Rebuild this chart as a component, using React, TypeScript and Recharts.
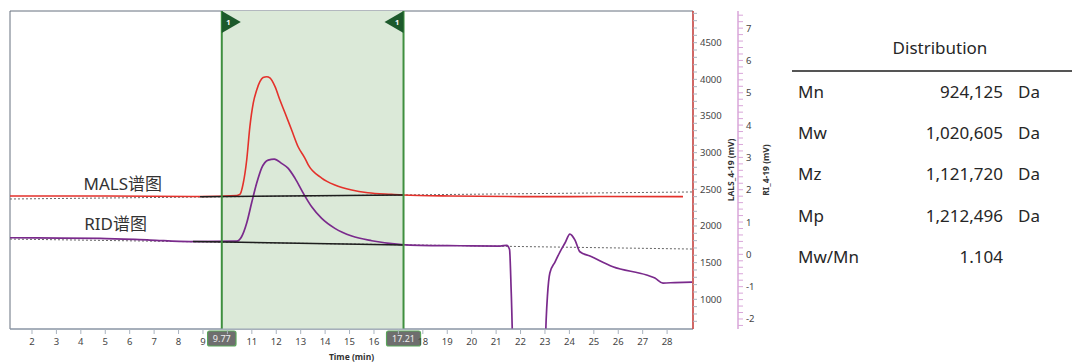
import React from 'react';
import {
  ComposedChart,
  Line,
  XAxis,
  YAxis,
  ReferenceArea,
  ReferenceLine,
  ReferenceDot,
} from 'recharts';

// ---- MALS (LALS detector) trace, mV ----
const MALS_TIME = [1.1, 4.78, 8.88, 10.39, 10.51, 10.65, 10.79, 10.92, 11.06, 11.2, 11.33, 11.46, 11.61, 11.74, 11.95, 12.15, 12.36, 12.63, 12.9, 13.17, 13.31, 13.86, 14.4, 15.09, 15.75, 16.72, 17.19, 19.11, 22.79, 25.25, 28.65];
const MALS_LALS = [2409, 2409, 2402, 2416, 2430, 2586, 2900, 3354, 3678, 3855, 3968, 4025, 4036, 4019, 3900, 3718, 3541, 3309, 3077, 2927, 2832, 2654, 2559, 2491, 2454, 2432, 2423, 2409, 2400, 2402, 2400];

// ---- RID (refractive index) trace, mV ----
const RID_TIME = [1.1, 3.15, 4.78, 6.83, 8.47, 10.38, 10.58, 10.79, 10.99, 11.2, 11.4, 11.67, 11.92, 12.22, 12.49, 12.77, 13.11, 13.45, 13.86, 14.4, 15.09, 15.91, 17.13, 17.88, 19.52, 21.16, 21.44, 21.55, 21.62, 21.72, 22.98, 23.05, 23.1, 23.2, 23.41, 23.61, 23.82, 24.02, 24.23, 24.43, 24.84, 25.78, 27.16, 27.5, 27.83, 28.32, 29.02];
const RID_RI = [0.513, 0.504, 0.495, 0.442, 0.396, 0.41, 0.544, 0.968, 1.587, 2.205, 2.669, 2.917, 2.948, 2.815, 2.66, 2.351, 1.887, 1.472, 1.113, 0.804, 0.566, 0.421, 0.303, 0.278, 0.266, 0.257, 0.278, 0.15, -1.2, -3.5, -3.5, -2.0, -1.3, -0.578, -0.238, 0.071, 0.35, 0.628, 0.442, 0.08, -0.053, -0.384, -0.64, -0.733, -0.888, -0.872, -0.857];

// ---- integration baselines ----
const MALS_BASE_TIME = [8.88, 17.21];
const MALS_BASE_LALS = [2400, 2423];
const RID_BASE_TIME = [8.59, 17.21];
const RID_BASE_RI = [0.396, 0.288];

// ---- extended baseline trends (dotted) ----
const MALS_TREND_TIME = [1.1, 29.06];
const MALS_TREND_LALS = [2368, 2464];
const RID_TREND_TIME = [1.1, 29.06];
const RID_TREND_RI = [0.473, 0.164];

// ---- peak integration limits ----
const PEAK_START = 9.77;
const PEAK_END = 17.21;
const PEAK_ID = '1';

// ---- axes ----
const TIME_DOMAIN = [1.1, 29.06];
const LALS_DOMAIN = [595, 4932];
const RI_DOMAIN = [-2.31, 7.53];
const TIME_TICKS = [2, 3, 4, 5, 6, 7, 8, 9, 10, 11, 12, 13, 14, 15, 16, 17, 18, 19, 20, 21, 22, 23, 24, 25, 26, 27, 28];
const LALS_LABELS = [1000, 1500, 2000, 2500, 3000, 3500, 4000, 4500];
const RI_LABELS = [-2, -1, 0, 1, 2, 3, 4, 5, 6, 7];

// ---- trace annotations ----
const ANNOTATION_TEXT = ['MALS谱图', 'RID谱图'];
const ANNOTATION_TIME = [5.72, 5.42];
const ANNOTATION_VALUE = [2573, 0.96];

// ---- distribution results ----
const DIST_LABELS = ['Mn', 'Mw', 'Mz', 'Mp', 'Mw/Mn'];
const DIST_VALUES = ['924,125', '1,020,605', '1,121,720', '1,212,496', '1.104'];
const DIST_UNITS = ['Da', 'Da', 'Da', 'Da', ''];

// minor tick positions
const LALS_TICKS: number[] = [];
for (let v = 700; v <= 4900; v += 100) LALS_TICKS.push(v);
const RI_TICKS: number[] = [];
for (let i = -11; i <= 37; i++) RI_TICKS.push(Math.round(i * 2) / 10);

const toPoints = (t: number[], v: number[]) => t.map((x, i) => ({ t: x, v: v[i] }));

const malsData = toPoints(MALS_TIME, MALS_LALS);
const ridData = toPoints(RID_TIME, RID_RI);
const malsBase = toPoints(MALS_BASE_TIME, MALS_BASE_LALS);
const ridBase = toPoints(RID_BASE_TIME, RID_BASE_RI);
const malsTrend = toPoints(MALS_TREND_TIME, MALS_TREND_LALS);
const ridTrend = toPoints(RID_TREND_TIME, RID_TREND_RI);

const FONT = '"Noto Sans", "Noto Sans CJK SC", sans-serif';
const RED = '#e4312b';
const PURPLE = '#7a2a8c';
const GREEN_LINE = '#3f8f3f';
const GREEN_FLAG = '#1d5a2c';

const LalsTick = (props: any) => {
  const { x, y, payload } = props;
  if (!LALS_LABELS.includes(payload.value)) return null;
  return (
    <text x={x} y={y} dy={3.5} textAnchor="start" fontSize={9.5} fill="#444" fontFamily={FONT}>
      {payload.value}
    </text>
  );
};

const RiTick = (props: any) => {
  const { x, y, payload } = props;
  if (!RI_LABELS.includes(payload.value)) return null;
  return (
    <text x={x} y={y} dy={3.5} textAnchor="start" fontSize={9.5} fill="#444" fontFamily={FONT}>
      {payload.value}
    </text>
  );
};

// time labels sitting under a limit badge are covered by it
const TimeTick = (props: any) => {
  const { x, y, payload } = props;
  const v = payload.value;
  if (Math.abs(v - PEAK_START) < 0.5 || Math.abs(v - PEAK_END) < 0.5) return null;
  return (
    <text x={x} y={y} dy={9} textAnchor="middle" fontSize={9.5} fill="#444" fontFamily={FONT}>
      {v}
    </text>
  );
};

const AxisTitle = (props: any) => {
  const { viewBox, text, dx } = props;
  const cx = viewBox.x + dx;
  const cy = viewBox.y + viewBox.height / 2;
  return (
    <text
      x={cx}
      y={cy}
      transform={`rotate(-90 ${cx} ${cy})`}
      textAnchor="middle"
      dominantBaseline="central"
      fontSize={8.5}
      fontWeight="bold"
      fill="#333"
      fontFamily={FONT}
    >
      {text}
    </text>
  );
};

const TimeTitle = (props: any) => {
  const { viewBox } = props;
  return (
    <text
      x={viewBox.x + viewBox.width / 2}
      y={viewBox.y + viewBox.height - 3.5}
      textAnchor="middle"
      fontSize={8.5}
      fontWeight="bold"
      fill="#333"
      fontFamily={FONT}
    >
      Time (min)
    </text>
  );
};

// flag at the top and value badge under the axis for an integration limit
const LimitMarker = (props: any) => {
  const { viewBox, value, side } = props;
  const x = viewBox.x;
  const top = viewBox.y;
  const bottom = viewBox.y + viewBox.height;
  const dir = side === 'start' ? 1 : -1;
  const flag = `M${x},${top} L${x + dir * 19},${top + 11} L${x},${top + 22} Z`;
  const label = value.toFixed(2);
  const w = label.length * 5.6 + 6;
  return (
    <g>
      <path d={flag} fill={GREEN_FLAG} />
      <text
        x={x + dir * 6.5}
        y={top + 11}
        dy={3}
        textAnchor="middle"
        fontSize={7.5}
        fontWeight="bold"
        fill="#fff"
        fontFamily={FONT}
      >
        {PEAK_ID}
      </text>
      <rect x={x - w / 2} y={bottom + 2} width={w} height={15} rx={2} fill="#6e6e6e" stroke="#5aa55a" strokeWidth={1.2} />
      <text x={x} y={bottom + 9.5} dy={3.3} textAnchor="middle" fontSize={9} fill="#eeeeee" fontFamily={FONT}>
        {label}
      </text>
    </g>
  );
};

const TraceLabel = (props: any) => {
  const { viewBox, text } = props;
  const cx = viewBox.x + viewBox.width / 2;
  const cy = viewBox.y + viewBox.height / 2;
  return (
    <text x={cx} y={cy} textAnchor="middle" dominantBaseline="central" fontSize={17} fill="#333" fontFamily={FONT}>
      {text}
    </text>
  );
};

const ROW_Y = [92, 133, 174, 216, 257];

export default function App() {
  return (
    <div style={{ position: 'absolute', left: 0, top: 0, width: 1072, height: 363, background: '#fff' }}>
      <ComposedChart
        width={1072}
        height={363}
        margin={{ top: 11, left: 10, right: 294, bottom: 0 }}
        style={{ fontFamily: FONT }}
      >
        <XAxis
          dataKey="t"
          type="number"
          domain={TIME_DOMAIN}
          ticks={TIME_TICKS}
          allowDataOverflow
          tick={<TimeTick />}
          tickSize={5}
          tickLine={{ stroke: '#a9b3bf' }}
          axisLine={{ stroke: '#9aa7b6' }}
          height={34}
          label={<TimeTitle />}
        />
        <YAxis
          yAxisId="lals"
          orientation="right"
          type="number"
          domain={LALS_DOMAIN}
          ticks={LALS_TICKS}
          interval={0}
          allowDataOverflow
          width={45}
          tickSize={4}
          tickMargin={3}
          tick={<LalsTick />}
          tickLine={{ stroke: '#a9b3bf' }}
          axisLine={{ stroke: RED, strokeWidth: 1.2 }}
          label={<AxisTitle text="LALS_4-19 (mV)" dx={37} />}
        />
        <YAxis
          yAxisId="ri"
          orientation="right"
          type="number"
          domain={RI_DOMAIN}
          ticks={RI_TICKS}
          interval={0}
          allowDataOverflow
          width={40}
          tickSize={5}
          tickMargin={3}
          tick={<RiTick />}
          tickLine={{ stroke: '#d9a6d9' }}
          axisLine={{ stroke: '#d9a6d9', strokeWidth: 1.5 }}
          label={<AxisTitle text="RI_4-19 (mV)" dx={27} />}
        />

        {/* plot frame */}
        <ReferenceArea
          yAxisId="lals"
          x1={TIME_DOMAIN[0]}
          x2={TIME_DOMAIN[1]}
          y1={LALS_DOMAIN[0]}
          y2={LALS_DOMAIN[1]}
          fill="none"
          stroke="#66717f"
          strokeWidth={1}
        />
        {/* integrated peak region */}
        <ReferenceArea
          yAxisId="lals"
          x1={PEAK_START}
          x2={PEAK_END}
          y1={LALS_DOMAIN[0]}
          y2={LALS_DOMAIN[1]}
          fill="#dbe9d8"
          fillOpacity={1}
          stroke="none"
        />

        <Line yAxisId="lals" data={malsTrend} dataKey="v" type="linear" stroke="#666" strokeWidth={1} strokeDasharray="2 2" dot={false} isAnimationActive={false} />
        <Line yAxisId="ri" data={ridTrend} dataKey="v" type="linear" stroke="#666" strokeWidth={1} strokeDasharray="2 2" dot={false} isAnimationActive={false} />

        <Line yAxisId="lals" data={malsData} dataKey="v" type="monotone" stroke={RED} strokeWidth={1.6} dot={false} isAnimationActive={false} />
        <Line yAxisId="ri" data={ridData} dataKey="v" type="monotone" stroke={PURPLE} strokeWidth={1.7} dot={false} isAnimationActive={false} />

        <Line yAxisId="lals" data={malsBase} dataKey="v" type="linear" stroke="#1e1e1e" strokeWidth={1.5} dot={false} isAnimationActive={false} />
        <Line yAxisId="ri" data={ridBase} dataKey="v" type="linear" stroke="#1e1e1e" strokeWidth={1.5} dot={false} isAnimationActive={false} />

        <ReferenceLine
          yAxisId="lals"
          x={PEAK_START}
          stroke={GREEN_LINE}
          strokeWidth={2}
          label={<LimitMarker value={PEAK_START} side="start" />}
        />
        <ReferenceLine
          yAxisId="lals"
          x={PEAK_END}
          stroke={GREEN_LINE}
          strokeWidth={2}
          label={<LimitMarker value={PEAK_END} side="end" />}
        />

        <ReferenceDot
          yAxisId="lals"
          x={ANNOTATION_TIME[0]}
          y={ANNOTATION_VALUE[0]}
          r={0}
          fill="none"
          stroke="none"
          label={<TraceLabel text={ANNOTATION_TEXT[0]} />}
        />
        <ReferenceDot
          yAxisId="ri"
          x={ANNOTATION_TIME[1]}
          y={ANNOTATION_VALUE[1]}
          r={0}
          fill="none"
          stroke="none"
          label={<TraceLabel text={ANNOTATION_TEXT[1]} />}
        />
      </ComposedChart>

      {/* distribution summary */}
      <div style={{ position: 'absolute', left: 0, top: 0, width: 1072, height: 363, fontFamily: FONT, color: '#262626', pointerEvents: 'none' }}>
        <div style={{ position: 'absolute', left: 880, width: 120, top: 36, textAlign: 'center', fontSize: 17, lineHeight: '24px' }}>
          Distribution
        </div>
        <div style={{ position: 'absolute', left: 792, width: 280, top: 69.5, height: 2, background: '#555' }} />
        {DIST_LABELS.map((lab, i) => (
          <React.Fragment key={lab}>
            <div style={{ position: 'absolute', left: 798, top: ROW_Y[i] - 12, fontSize: 17, lineHeight: '24px' }}>{lab}</div>
            <div style={{ position: 'absolute', left: 870, width: 133, top: ROW_Y[i] - 12, fontSize: 17, lineHeight: '24px', textAlign: 'right' }}>
              {DIST_VALUES[i]}
            </div>
            <div style={{ position: 'absolute', left: 1018, top: ROW_Y[i] - 12, fontSize: 17, lineHeight: '24px' }}>{DIST_UNITS[i]}</div>
          </React.Fragment>
        ))}
      </div>
    </div>
  );
}
